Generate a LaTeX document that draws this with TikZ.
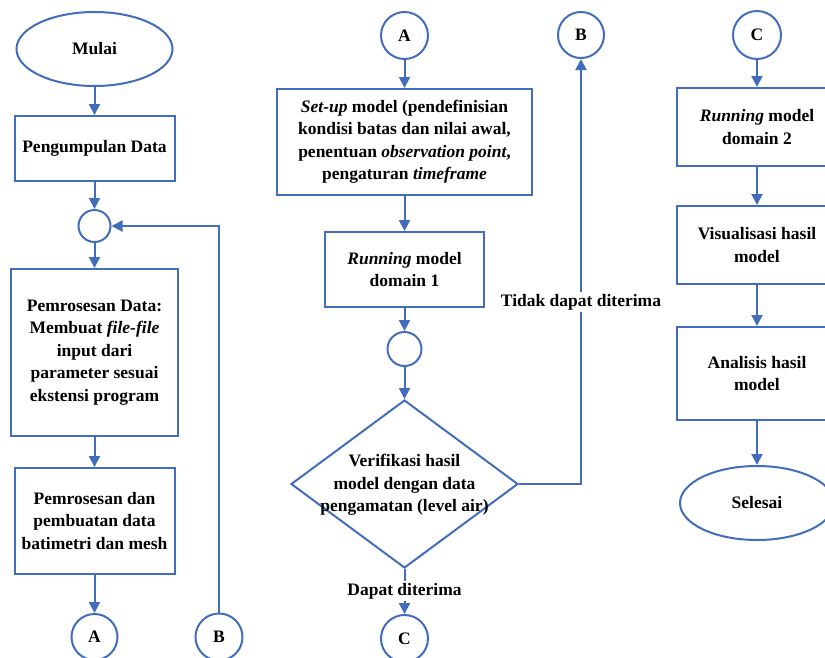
\documentclass[tikz,border=0pt]{standalone}
\usepackage{fontspec}
\setmainfont{Liberation Serif}
\usetikzlibrary{shapes.geometric,arrows.meta}
\definecolor{fblue}{RGB}{66,108,190}
\begin{document}
\begin{tikzpicture}[x=1pt,y=-1pt,
  every node/.style={font=\fontsize{17.5}{22.5}\selectfont\bfseries, text=black},
  box/.style={draw=fblue, line width=2pt, rectangle, align=center, inner sep=0pt},
  term/.style={draw=fblue, line width=2pt, ellipse, inner sep=0pt, minimum width=156pt, minimum height=74pt},
  conn/.style={draw=fblue, line width=2pt, circle, inner sep=0pt},
  dec/.style={draw=fblue, line width=2pt, diamond, inner sep=0pt, minimum width=227pt, minimum height=168pt},
  lbl/.style={fill=white, inner sep=2pt, align=center},
  arr/.style={draw=fblue, line width=2pt, -{Triangle[length=11pt,width=11pt]}},
  ln/.style={draw=fblue, line width=2pt}
]
\useasboundingbox (0,0) rectangle (825,657);
\clip (0,0) rectangle (825,657);
% column 1
\node[term] (mulai) at (94.5,49) {Mulai};
\node[box, minimum width=160pt, minimum height=65pt] (peng) at (94.5,148.5) {Pengumpulan Data};
\node[conn, minimum size=32pt] (j1) at (94.5,226) {};
\node[box, minimum width=167pt, minimum height=167pt] (proc1) at (94.5,352.5) {Pemrosesan Data:\\Membuat \textit{file-file}\\input dari\\parameter sesuai\\ekstensi program};
\node[box, minimum width=160pt, minimum height=106pt] (proc2) at (94.5,521) {Pemrosesan dan\\pembuatan data\\batimetri dan mesh};
\node[conn, minimum size=46pt] (A1) at (94.5,637) {A};
\node[conn, minimum size=47pt] (B1) at (219,637) {B};
\draw[arr] (mulai) -- (peng);
\draw[arr] (peng) -- (j1);
\draw[arr] (j1) -- (proc1);
\draw[arr] (proc1) -- (proc2);
\draw[arr] (proc2) -- (A1);
\draw[arr] (B1.north) |- (j1.east);
% column 2
\node[conn, minimum size=47pt] (A2) at (404.5,35.5) {A};
\node[box, minimum width=255pt, minimum height=106pt] (setup) at (404.5,142) {\textit{Set-up} model (pendefinisian\\kondisi batas dan nilai awal,\\penentuan \textit{observation point},\\pengaturan \textit{timeframe}};
\node[box, minimum width=159pt, minimum height=75pt] (run1) at (404.5,269.5) {\textit{Running} model\\domain 1};
\node[conn, minimum size=34pt] (j2) at (404.5,349) {};
\node[dec] (dia) at (404.5,484) {};
\node[align=center, inner sep=0pt] (diatext) at (404.5,485) {Verifikasi hasil\\model dengan data\\pengamatan (level air)};
\node[conn, minimum size=47pt] (C2) at (404.5,638.5) {C};
\node[conn, minimum size=46pt] (B2) at (581,35) {B};
\draw[arr] (A2) -- (setup);
\draw[arr] (setup) -- (run1);
\draw[arr] (run1) -- (j2);
\draw[arr] (j2) -- (dia);
\draw[arr] (dia.south) -- (C2.north);
\node[lbl] (ok) at (404.5,591) {Dapat diterima};
\draw[arr] (dia.east) -| (B2.south);
\node[lbl] (notok) at (581,302) {Tidak dapat diterima};
% column 3
\node[conn, minimum size=48pt] (C3) at (757,35) {C};
\node[box, minimum width=160pt, minimum height=78pt] (run2) at (757,127) {\textit{Running} model\\domain 2};
\node[box, minimum width=160pt, minimum height=78pt] (vis) at (757,245) {Visualisasi hasil\\model};
\node[box, minimum width=160pt, minimum height=93pt] (anal) at (757,373.5) {Analisis hasil\\model};
\node[term, minimum width=154pt] (selesai) at (757,503) {Selesai};
\draw[arr] (C3) -- (run2);
\draw[arr] (run2) -- (vis);
\draw[arr] (vis) -- (anal);
\draw[arr] (anal) -- (selesai);
\end{tikzpicture}
\end{document}
